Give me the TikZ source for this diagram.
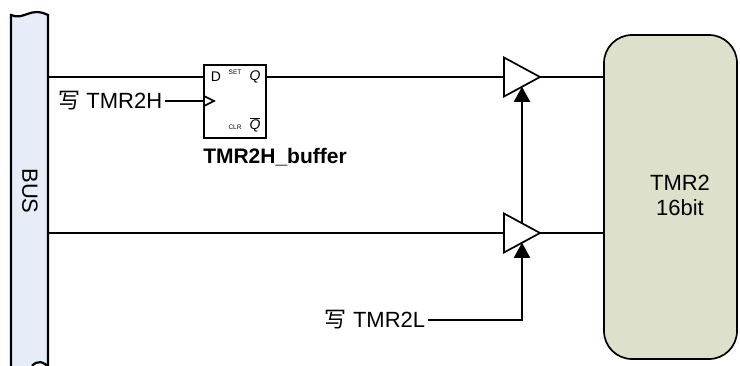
\documentclass[tikz,border=0pt]{standalone}
\usepackage{fontspec}
\setmainfont{Liberation Sans}
\newfontfamily\cjk{Noto Sans CJK SC}
\usetikzlibrary{shapes.geometric,arrows.meta}
\definecolor{busblue}{RGB}{230,236,248}
\definecolor{tmrgreen}{RGB}{221,225,203}
\tikzset{
  buffer/.style={draw,fill=white,isosceles triangle,isosceles triangle stretches,
    shape border rotate=0,minimum width=39pt,minimum height=36pt,inner sep=0pt,outer sep=0pt},
  pin/.style={font=\fontsize{14}{14}\selectfont,inner sep=0pt},
  tiny/.style={font=\fontsize{6.5}{6.5}\selectfont,inner sep=0pt},
  en/.style={-{Triangle[length=15pt,width=16pt]}}
}

\begin{document}
\begin{tikzpicture}[x=1pt,y=-1pt,line width=1.7pt,
  every node/.style={font=\fontsize{22}{25}\selectfont,inner sep=2pt}]
\useasboundingbox (0,0) rectangle (740,365);
% bus
\fill [busblue] (11,15) .. controls (24,21) and (30,6) .. (48,15) -- (48,368)
  .. controls (45,361) and (37,360) .. (32,366) .. controls (24,372) and (16,370) .. (11,368) -- cycle;
\draw [line width=2.2pt] (11,368) -- (11,15) .. controls (24,21) and (30,6) .. (48,15) -- (48,368)
  .. controls (45,361) and (37,360) .. (32,366);
\node [rotate=-90] (bus) at (30,191) {BUS};
\coordinate (b1) at (48,77);
\coordinate (b2) at (48,233);
% flip-flop
\node [draw,minimum width=62pt,minimum height=73pt,inner sep=0pt,outer sep=0pt] (ff) at (235,101.5) {};
\node [pin] (d) at (216,77) {D};
\node [pin] (q) at (255,77) {\itshape Q};
\node [pin] (qb) at (255,125) {$\overline{\mbox{\itshape Q}}$};
\node [tiny] (set) at (235,72) {SET};
\node [tiny] (clr) at (235,127) {CLR};
\coordinate (clk) at (204,101);
\draw (204,96) -- (214,101) -- (204,106);
\node [font=\bfseries\fontsize{21}{24}\selectfont] (fflabel) at (275,157) {TMR2H\_buffer};
\node [anchor=east] (wh) at (165,101) {{\cjk 写} TMR2H};
\draw (wh.east) -- (clk);
\draw (b1) -- (b1 -| ff.west);
% buffers
\node [buffer,anchor=lower side] (buf1) at (504,77) {};
\node [buffer,anchor=lower side] (buf2) at (504,233) {};
\draw (b1 -| ff.east) -- (buf1.lower side);
\draw (b2) -- (buf2.lower side);
\draw [en] (buf2.left side) -- (buf1.right side);
\node [anchor=east] (wl) at (428,320) {{\cjk 写} TMR2L};
\draw [en] (wl.east) -| (buf2.right side);
% TMR2
\node [draw,fill=tmrgreen,rounded corners=28pt,minimum width=133pt,minimum height=324pt,outer sep=0pt] (tmr) at (670.5,197) {};
\node [align=center] (tmrtext) at (680,195) {TMR2\\16bit};
\draw (buf1.apex) -- (buf1.apex -| tmr.west);
\draw (buf2.apex) -- (buf2.apex -| tmr.west);
\end{tikzpicture}
\end{document}
